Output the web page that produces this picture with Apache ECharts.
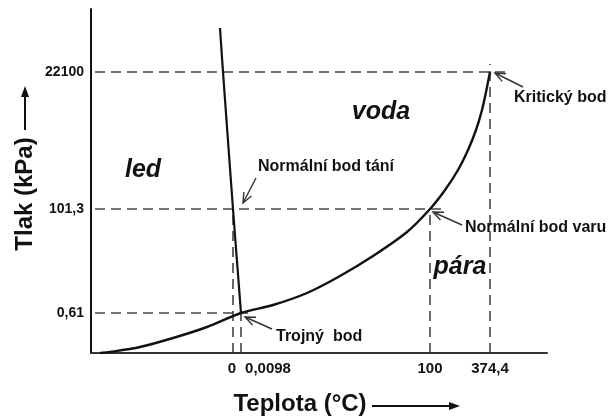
<!DOCTYPE html>
<html>
<head>
<meta charset="utf-8">
<script src="https://cdn.jsdelivr.net/npm/echarts@6/dist/echarts.min.js"></script>
<style>html,body{margin:0;padding:0;background:#fff}#c{width:610px;height:418px}</style>
</head>
<body>
<div id="c"></div>
<script>
// Schematic (non-linear) phase diagram: positions are in schematic units along each axis
var xTickPos = [142, 150, 339, 399];
var xTickLabels = ['0', '0,0098', '100', '374,4'];
var yTickPos = [40, 144, 281];
var yTickLabels = ['0,61', '101,3', '22100'];

// vapour-pressure (boiling) curve
var vaporCurve = [[9,0],[19,1],[49,6],[82,15],[116,26],[150,40],[182,48],[216,60],[249,77],[282,97],[316,121],[339,144],[354,163],[367,183],[377,203],[385,223],[391,243],[395,261],[399,281]];
// melting curve
var meltCurve = [[129,325],[132,281],[142,144],[150,40]];

// dashed guide lines [x1,y1,x2,y2]
var guides = [
  [4,281,417,281],
  [4,144,356,144],
  [4,40,157,40],
  [142,0,142,144],
  [150,0,150,40],
  [339,0,339,144],
  [399,0,399,289]
];

// annotations: text, text anchor point, arrow from, arrow tip
var annoText = ['Kritický bod', 'Normální bod varu', 'Normální bod tání', 'Trojný  bod'];
var annoAt = [[423,255],[374,125],[167,186],[185,16]];
var arrowFrom = [[432,266],[371,128],[165,175],[181,24]];
var arrowTo = [[404,280],[342,141],[152,150],[154,36]];

// region labels
var regionText = ['led', 'voda', 'pára'];
var regionAt = [[52,183],[290,241],[369,86]];

var FONT = '"Liberation Sans", Arial, sans-serif';
var chart = echarts.init(document.getElementById('c'));

function arrowItem(params, api) {
  var i = params.dataIndex;
  var p1 = api.coord(arrowFrom[i]);
  var p2 = api.coord(arrowTo[i]);
  var ang = Math.atan2(p1[1] - p2[1], p1[0] - p2[0]);
  var L = 11, a = 0.4;
  var h1 = [p2[0] + L * Math.cos(ang + a), p2[1] + L * Math.sin(ang + a)];
  var h2 = [p2[0] + L * Math.cos(ang - a), p2[1] + L * Math.sin(ang - a)];
  var st = {stroke: '#333', lineWidth: 1.4, fill: null};
  return {type: 'group', children: [
    {type: 'polyline', shape: {points: [p1, p2]}, style: st},
    {type: 'polyline', shape: {points: [h1, p2, h2]}, style: st}
  ]};
}

chart.setOption({
  animation: false,
  grid: {left: 91, top: 9, width: 456, height: 344},
  xAxis: {
    type: 'value', min: 0, max: 456,
    axisLine: {show: true, lineStyle: {color: '#333', width: 2}},
    axisTick: {show: false},
    splitLine: {show: false},
    axisLabel: {
      customValues: xTickPos,
      margin: 8,
      color: '#111', fontFamily: FONT, fontWeight: 'bold', fontSize: 15,
      formatter: function (v) {
        var i = xTickPos.indexOf(v);
        if (i < 0) return '';
        if (i === 1) return '{r|' + xTickLabels[i] + '}';
        if (i === 0) return '{l|' + xTickLabels[i] + '}';
        return xTickLabels[i];
      },
      rich: {
        r: {padding: [0, 0, 0, 54], fontFamily: FONT, fontWeight: 'bold', fontSize: 15, color: '#111'},
        l: {padding: [0, 2, 0, 0], fontFamily: FONT, fontWeight: 'bold', fontSize: 15, color: '#111'}
      }
    }
  },
  yAxis: {
    type: 'value', min: 0, max: 344,
    axisLine: {show: true, lineStyle: {color: '#111', width: 2}},
    axisTick: {show: false},
    splitLine: {show: false},
    axisLabel: {
      customValues: yTickPos,
      margin: 7,
      color: '#111', fontFamily: FONT, fontWeight: 'bold', fontSize: 14,
      formatter: function (v) {
        var i = yTickPos.indexOf(v);
        return i < 0 ? '' : yTickLabels[i];
      }
    }
  },
  graphic: [
    {type: 'text', x: 25, y: 194, rotation: Math.PI / 2,
     style: {text: 'Tlak (kPa)', font: 'bold 24px ' + FONT, fill: '#111', align: 'center', verticalAlign: 'middle'}},
    {type: 'line', shape: {x1: 25, y1: 130, x2: 25, y2: 94}, style: {stroke: '#111', lineWidth: 2}},
    {type: 'polygon', shape: {points: [[25, 86], [21, 97], [29, 97]]}, style: {fill: '#111'}},
    {type: 'text', x: 300, y: 404,
     style: {text: 'Teplota (°C)', font: 'bold 24px ' + FONT, fill: '#111', align: 'center', verticalAlign: 'middle'}},
    {type: 'line', shape: {x1: 372, y1: 406, x2: 452, y2: 406}, style: {stroke: '#111', lineWidth: 2}},
    {type: 'polygon', shape: {points: [[460, 406], [449, 402], [449, 410]]}, style: {fill: '#111'}}
  ],
  series: [
    {
      type: 'custom', name: 'guides', silent: true, z: 2,
      data: guides,
      renderItem: function (params, api) {
        var g = guides[params.dataIndex];
        var p1 = api.coord([g[0], g[1]]), p2 = api.coord([g[2], g[3]]);
        return {type: 'line', shape: {x1: p1[0], y1: p1[1], x2: p2[0], y2: p2[1]},
          style: {stroke: '#444', lineWidth: 1.6, lineDash: [10, 6]}};
      }
    },
    {
      type: 'line', name: 'vapor', data: vaporCurve, smooth: 0.3, symbol: 'none', z: 3,
      lineStyle: {color: '#111', width: 2.4}
    },
    {
      type: 'line', name: 'melt', data: meltCurve, smooth: 0.3, symbol: 'none', z: 3,
      lineStyle: {color: '#111', width: 2.2}
    },
    {
      type: 'custom', name: 'arrows', silent: true, z: 4,
      data: arrowFrom,
      renderItem: arrowItem
    },
    {
      type: 'custom', name: 'annotations', silent: true, z: 5,
      data: annoText,
      renderItem: function (params, api) {
        var i = params.dataIndex;
        var p = api.coord(annoAt[i]);
        return {type: 'text', x: p[0], y: p[1],
          style: {text: annoText[i], font: 'bold 16px ' + FONT, fill: '#111', align: 'left', verticalAlign: 'middle'}};
      }
    },
    {
      type: 'custom', name: 'regions', silent: true, z: 5,
      data: regionText,
      renderItem: function (params, api) {
        var i = params.dataIndex;
        var p = api.coord(regionAt[i]);
        return {type: 'text', x: p[0], y: p[1],
          style: {text: regionText[i], font: 'italic bold 25px ' + FONT, fill: '#111', align: 'center', verticalAlign: 'middle'}};
      }
    }
  ]
});
</script>
</body>
</html>
